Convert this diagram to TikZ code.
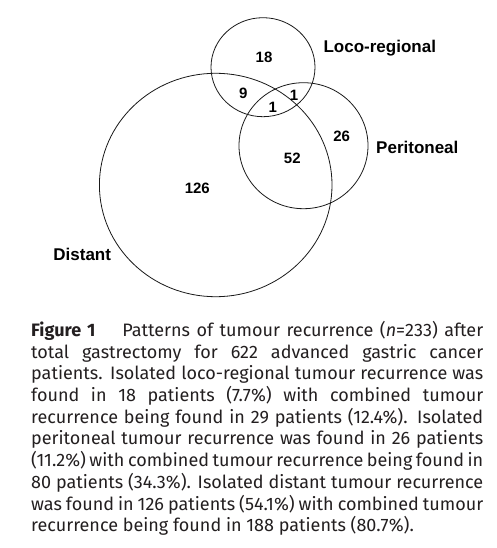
\documentclass[tikz,border=0pt]{standalone}
\usepackage{fontspec}
\setmainfont{Fira Sans}
\newfontfamily\labelfont{Liberation Sans}
\usepackage{tikz}
\usetikzlibrary{positioning}
\definecolor{venn-line}{HTML}{1A1A1A}
\definecolor{cap-text}{HTML}{231F20}
\tikzset{ring/.style={draw=venn-line, line width=0.8pt}}
\tikzset{setlabel/.style={font=\labelfont\bfseries\fontsize{17pt}{17pt}\selectfont, inner sep=0pt}}
\tikzset{count/.style={font=\labelfont\bfseries\fontsize{15pt}{15pt}\selectfont, inner sep=0pt}}

\begin{document}
\begin{tikzpicture}[x=1pt, y=-1pt]
  \useasboundingbox[fill=white] (0,0) rectangle (497,548);

  % The three sets
  \draw[ring] (263,67.2) ellipse [x radius=52pt, y radius=49.5pt];
  \draw[ring] (303.5,145.7) ellipse [x radius=64.5pt, y radius=63pt];
  \draw[ring] (215.7,185) ellipse [x radius=116.3pt, y radius=111.7pt];

  % Set names
  \node (loco) [setlabel, anchor=base] at (379.8,52.3) {Loco-regional};
  \node (perit) [setlabel, anchor=base] at (417.3,153.3) {Peritoneal};
  \node (dist) [setlabel, anchor=base] at (82.2,260.7) {Distant};

  % Counts in each region
  \node (nloco) [count] at (264,57.3) {18};
  \node (nlocodist) [count] at (243.3,93.3) {9};
  \node (nlocoperit) [count] at (294,95) {1};
  \node (nall) [count] at (272.7,107.3) {1};
  \node (nperit) [count] at (341.7,136) {26};
  \node (nperitdist) [count] at (292.3,158.3) {52};
  \node (ndist) [count] at (197.3,188.7) {126};

  % Caption
  \node (caption) [anchor=north west, text width=452pt, align=justify, inner sep=0pt,
    text=cap-text, font=\fontsize{18pt}{21.7pt}\selectfont] at (31,321) {%
    \hyphenpenalty=10000\exhyphenpenalty=10000\tolerance=10000%
    \textbf{Figure 1}\hspace*{27pt}Patterns of tumour recurrence (\textit{n}=233) after\linebreak
    total gastrectomy for 622 advanced gastric cancer\linebreak
    patients. Isolated loco-regional tumour recurrence was\linebreak
    found in 18 patients (7.7\%) with combined tumour\linebreak
    recurrence being found in 29 patients (12.4\%). Isolated\linebreak
    peritoneal tumour recurrence was found in 26 patients\linebreak
    (11.2\%) with combined tumour recurrence being found in\linebreak
    80 patients (34.3\%). Isolated distant tumour recurrence\linebreak
    was found in 126 patients (54.1\%) with combined tumour\linebreak
    recurrence being found in 188 patients (80.7\%).};
\end{tikzpicture}
\end{document}
